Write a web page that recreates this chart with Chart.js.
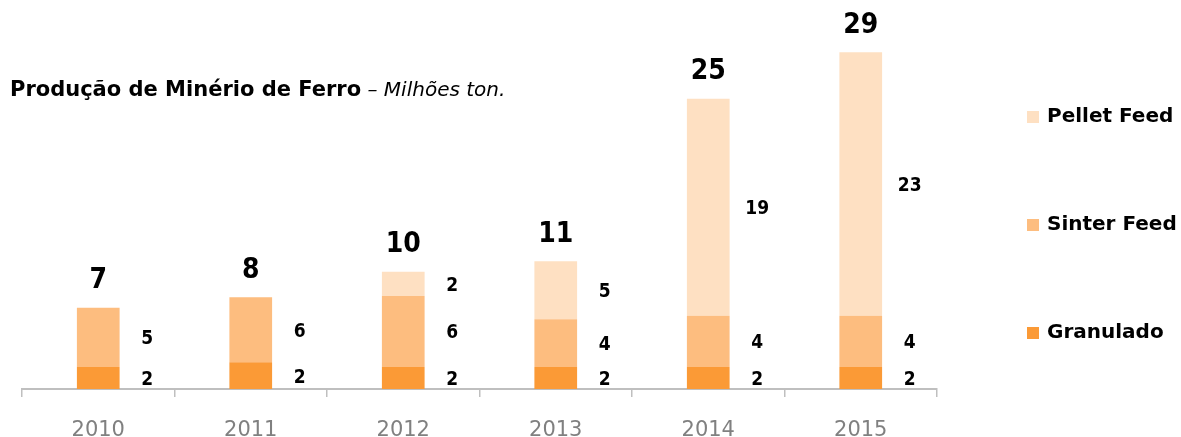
<!DOCTYPE html>
<html>
<head>
<meta charset="utf-8">
<script src="https://cdn.jsdelivr.net/npm/chart.js@4"></script>
<style>
  body { margin: 0; background: #fff; }
  #wrap { width: 1181px; height: 437px; position: relative; }
</style>
</head>
<body>
<div id="wrap"><canvas id="barChart"></canvas></div>
<script>
const years = ['2010', '2011', '2012', '2013', '2014', '2015'];
const granulado = [1.9, 2.3, 1.9, 1.9, 1.9, 1.9];
const sinterFeed = [5.1, 5.6, 6.1, 4.1, 4.4, 4.4];
const pelletFeed = [0, 0, 2.1, 5.0, 18.7, 22.7];

const titleBold = 'Produção de Minério de Ferro';
const titleItalic = ' – Milhões ton.';

// labels beside the segments, totals on top, title and legend
const labelsPlugin = {
    id: 'labels',
    afterDatasetsDraw(chart) {
        const ctx = chart.ctx;
        ctx.save();
        ctx.fillStyle = '#000';
        ctx.textAlign = 'center';
        ctx.textBaseline = 'middle';
        ctx.font = 'bold 19px "DejaVu Sans Condensed", "DejaVu Sans"';
        chart.data.datasets.forEach((ds, i) => {
            chart.getDatasetMeta(i).data.forEach((bar, j) => {
                const v = ds.data[j];
                if (!v) return;
                ctx.fillText(Math.round(v), bar.x + 49, (bar.y + bar.base) / 2 + 2);
            });
        });
        ctx.font = 'bold 28px "DejaVu Sans Condensed", "DejaVu Sans"';
        const last = chart.getDatasetMeta(chart.data.datasets.length - 1).data;
        years.forEach((y, j) => {
            const total = granulado[j] + sinterFeed[j] + pelletFeed[j];
            const top = chart.scales.y.getPixelForValue(total);
            ctx.fillText(Math.round(total), last[j].x, top - 27);
        });
        ctx.restore();
    },
    afterDraw(chart) {
        const ctx = chart.ctx;
        ctx.save();
        ctx.textBaseline = 'middle';
        ctx.textAlign = 'left';
        ctx.fillStyle = '#000';
        ctx.font = 'bold 21px "DejaVu Sans"';
        ctx.fillText(titleBold, 10, 91);
        const w = ctx.measureText(titleBold).width;
        ctx.font = 'italic 20px "DejaVu Sans"';
        ctx.fillText(titleItalic, 10 + w, 91);

        // legend, top item = last dataset
        const ys = [117, 225, 333];
        chart.data.datasets.slice().reverse().forEach((ds, k) => {
            ctx.fillStyle = ds.backgroundColor;
            ctx.fillRect(1027, ys[k] - 6, 12, 12);
            ctx.fillStyle = '#000';
            ctx.font = 'bold 20px "DejaVu Sans"';
            ctx.fillText(ds.label, 1047, ys[k]);
        });
        ctx.restore();
    }
};

const ctx = document.getElementById('barChart').getContext('2d');
const myChart = new Chart(ctx, {
    type: 'bar',
    data: {
        labels: years,
        datasets: [
            { label: 'Granulado', data: granulado, backgroundColor: '#FB9A36' },
            { label: 'Sinter Feed', data: sinterFeed, backgroundColor: '#FDBD7F' },
            { label: 'Pellet Feed', data: pelletFeed, backgroundColor: '#FEE0C2' }
        ]
    },
    options: {
        responsive: true,
        maintainAspectRatio: false,
        animation: false,
        categoryPercentage: 0.28,
        barPercentage: 1,
        layout: { padding: { left: 22, right: 244, top: 0, bottom: 0 } },
        plugins: {
            legend: { display: false },
            tooltip: { enabled: false }
        },
        scales: {
            x: {
                stacked: true,
                afterFit(scale) { scale.height = 48; },
                grid: {
                    offset: true,
                    drawOnChartArea: false,
                    tickLength: 8,
                    color: '#BFBFBF',
                    lineWidth: 1.5
                },
                border: { display: true, color: '#BFBFBF', width: 2 },
                ticks: {
                    color: '#808080',
                    padding: 21,
                    font: { family: '"DejaVu Sans"', size: 21 }
                }
            },
            y: {
                stacked: true,
                display: false,
                min: 0,
                max: 33.5
            }
        }
    },
    plugins: [labelsPlugin]
});
</script>
</body>
</html>
